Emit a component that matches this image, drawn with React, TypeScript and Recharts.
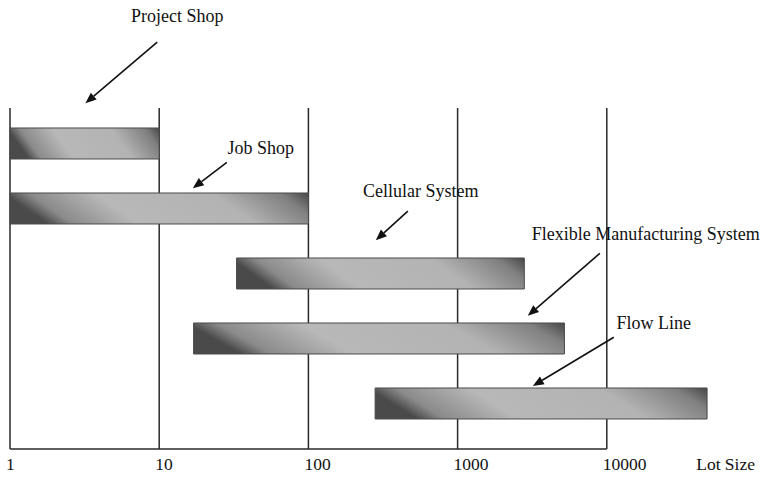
import { BarChart, Bar, XAxis, YAxis, CartesianGrid, ReferenceLine, ReferenceDot } from "recharts";

// systems ordered top to bottom, with the lot-size range each one covers
const SYSTEMS = ["Project Shop", "Job Shop", "Cellular System", "Flexible Manufacturing System", "Flow Line"];
const LOT_MIN = [1, 1, 33, 17, 280];
const LOT_MAX = [10, 100, 2800, 5200, 47000];
const X_TICKS = [1, 10, 100, 1000, 10000];

// callouts: label anchor and arrow (from -> to), in lot size / row units
const NOTE_TEXT = ["Project Shop", "Job Shop", "Cellular System", "Flexible Manufacturing System", "Flow Line"];
const NOTE_X = [13.2, 48, 567, 18250, 20650];
const NOTE_ROW = [-0.96, 1.07, 1.73, 2.39, 3.75];
const ARROW_FROM_X = [9.7, 28.4, 464, 8980, 11140];
const ARROW_FROM_ROW = [-0.56, 1.29, 2.04, 2.69, 3.98];
const ARROW_TO_X = [3.2, 16.8, 283, 2956, 3193];
const ARROW_TO_ROW = [0.38, 1.69, 2.49, 3.65, 4.73];

const data = SYSTEMS.map((name, i) => ({
  name,
  row: i + 1,
  range: [LOT_MIN[i], LOT_MAX[i]],
}));

const FONT = "'Liberation Serif', 'Times New Roman', serif";
const INK = "#111";

function Arrow(props: any) {
  const { x1, y1, x2, y2 } = props;
  const dx = x2 - x1;
  const dy = y2 - y1;
  const len = Math.sqrt(dx * dx + dy * dy) || 1;
  const ux = dx / len;
  const uy = dy / len;
  const head = 11;
  const half = 4.5;
  const bx = x2 - ux * head;
  const by = y2 - uy * head;
  const pts = `${x2},${y2} ${bx - uy * half},${by + ux * half} ${bx + uy * half},${by - ux * half}`;
  return (
    <g>
      <line x1={x1} y1={y1} x2={bx} y2={by} stroke={INK} strokeWidth={1.6} />
      <polygon points={pts} fill={INK} />
    </g>
  );
}

// tick labels sit just right of their gridline, like the original figure
function LotTick(props: any) {
  const { x, y, payload } = props;
  return (
    <text x={x - 4} y={y} dy="0.71em" textAnchor="start" fill={INK} fontSize={17.5} fontFamily={FONT}>
      {payload.value}
    </text>
  );
}

export default function App() {
  return (
    <div style={{ position: "absolute", left: 0, top: 0, background: "#fff" }}>
      <BarChart
        width={763}
        height={479}
        data={data}
        layout="vertical"
        margin={{ top: 108, right: 7, bottom: 0, left: 10 }}
      >
        <defs>
          <linearGradient id="barShade" x1="0" y1="0.15" x2="1" y2="0">
            <stop offset="0" stopColor="#4a4a4a" />
            <stop offset="0.08" stopColor="#8a8a8a" />
            <stop offset="0.3" stopColor="#b8b8b8" />
            <stop offset="0.68" stopColor="#b3b3b3" />
            <stop offset="0.9" stopColor="#808080" />
            <stop offset="1" stopColor="#474747" />
          </linearGradient>
        </defs>
        <CartesianGrid
          vertical
          horizontal={false}
          verticalValues={X_TICKS}
          stroke="#2a2a2a"
          strokeWidth={1.5}
        />
        <XAxis
          type="number"
          scale="log"
          domain={[1, 100000]}
          ticks={X_TICKS}
          axisLine={false}
          tickLine={false}
          tickMargin={3}
          height={30}
          tick={<LotTick />}
          label={{ value: "Lot Size", position: "insideRight", offset: 1, fill: INK, fontSize: 17.5, fontFamily: FONT }}
        />
        <YAxis type="number" dataKey="row" domain={[0.454, 5.7]} hide />
        <ReferenceLine
          segment={[{ x: 1, y: 5.7 }, { x: 10000, y: 5.7 }]}
          stroke="#2a2a2a"
          strokeWidth={1.5}
          ifOverflow="visible"
        />
        <Bar
          dataKey="range"
          barSize={31}
          fill="url(#barShade)"
          stroke="#4a4a4a"
          strokeWidth={1}
          isAnimationActive={false}
        />
        {NOTE_TEXT.map((t, i) => (
          <ReferenceLine
            key={`a${i}`}
            segment={[
              { x: ARROW_FROM_X[i], y: ARROW_FROM_ROW[i] },
              { x: ARROW_TO_X[i], y: ARROW_TO_ROW[i] },
            ]}
            ifOverflow="visible"
            shape={Arrow}
          />
        ))}
        {NOTE_TEXT.map((t, i) => (
          <ReferenceDot
            key={`t${i}`}
            x={NOTE_X[i]}
            y={NOTE_ROW[i]}
            r={0}
            fill="none"
            stroke="none"
            ifOverflow="visible"
            label={{ value: t, position: "center", fill: INK, fontSize: 18, fontFamily: FONT }}
          />
        ))}
      </BarChart>
    </div>
  );
}
